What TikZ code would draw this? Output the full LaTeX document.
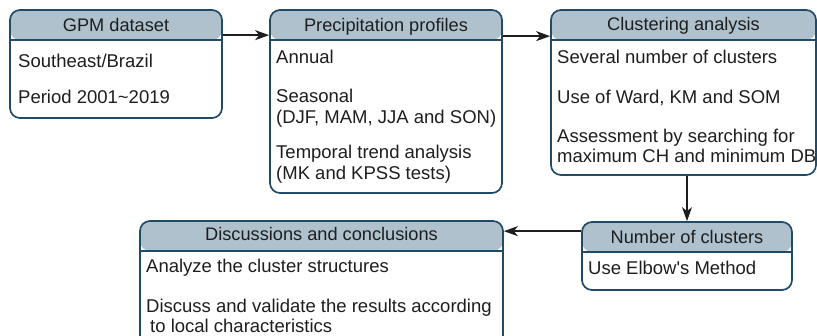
\documentclass[tikz,border=0pt]{standalone}
\usepackage{fontspec}
\setmainfont{Liberation Sans}
\usetikzlibrary{arrows.meta}
\definecolor{hdr}{HTML}{AEC1CD}
\definecolor{edgeblue}{HTML}{1F4B68}
\definecolor{ink}{HTML}{1E1E1E}
\tikzset{
  box/.style={draw=edgeblue, line width=1.7pt, rounded corners=10pt, fill=white, inner sep=0pt,
    path picture={
      \fill[hdr] (path picture bounding box.north west) rectangle ([yshift=-30pt]path picture bounding box.north east);
      \draw[edgeblue, line width=1.7pt] ([yshift=-30pt]path picture bounding box.north west) -- ([yshift=-30pt]path picture bounding box.north east);
    }},
  hdrtext/.style={font=\fontsize{18.2}{21}\selectfont, text=ink, inner sep=0pt, anchor=base},
  item/.style={font=\fontsize{18.5}{21}\selectfont, text=ink, inner sep=0pt, anchor=base west},
  conn/.style={line width=1.5pt, draw=ink, -{Stealth[length=14pt,width=10pt,inset=4pt]}}
}
\begin{document}
\begin{tikzpicture}[x=1pt,y=-1pt]
\useasboundingbox (0,0) rectangle (817,336);
\clip (0,0) rectangle (817,336);
% boxes
\node[box, minimum width=212pt, minimum height=108pt] (b1) at (116,64) {};
\node[box, minimum width=232pt, minimum height=183pt] (b2) at (386,101.5) {};
\node[box, minimum width=265pt, minimum height=165pt] (b3) at (683.5,92.5) {};
\node[box, minimum width=210pt, minimum height=68pt] (b4) at (687,256) {};
\node[box, minimum width=363pt, minimum height=129pt] (b5) at (321.5,285.5) {};
% headers
\node[hdrtext] (h1) at (116,32) {GPM dataset};
\node[hdrtext] (h2) at (386,32) {Precipitation profiles};
\node[hdrtext] (h3) at (683.5,31) {Clustering analysis};
\node[hdrtext] (h4) at (687,244) {Number of clusters};
\node[hdrtext] (h5) at (321.5,241) {Discussions and conclusions};
% items
\node[item] (t11) at (18,68) {Southeast/Brazil};
\node[item] (t12) at (18,104) {Period 2001\textasciitilde 2019};
\node[item] (t21) at (276,64) {Annual};
\node[item] (t22) at (276,103) {Seasonal};
\node[item] (t23) at (276,124) {(DJF, MAM, JJA and SON)};
\node[item] (t24) at (276,159) {Temporal trend analysis};
\node[item] (t25) at (276,180) {(MK and KPSS tests)};
\node[item] (t31) at (557,64) {Several number of clusters};
\node[item] (t32) at (557,104) {Use of Ward, KM and SOM};
\node[item] (t33) at (557,143) {Assessment by searching for};
\node[item] (t34) at (557,163) {maximum CH and minimum DB};
\node[item] (t41) at (588,275) {Use Elbow\textquotesingle s Method};
\node[item] (t51) at (146,273) {Analyze the cluster structures};
\node[item] (t52) at (146,313) {Discuss and validate the results according};
\node[item] (t53) at (150,333) {to local characteristics};
% connectors
\draw[conn] ([yshift=-26pt]b1.north east) -- ([yshift=-26pt]b2.north west);
\draw[conn] ([yshift=-27pt]b2.north east) -- ([yshift=-27pt]b3.north west);
\draw[conn] (b4.north |- b3.south) -- (b4.north);
\draw[conn] ([yshift=-10pt]b4.north west) -- ([yshift=-11pt]b5.north east);
\end{tikzpicture}
\end{document}
